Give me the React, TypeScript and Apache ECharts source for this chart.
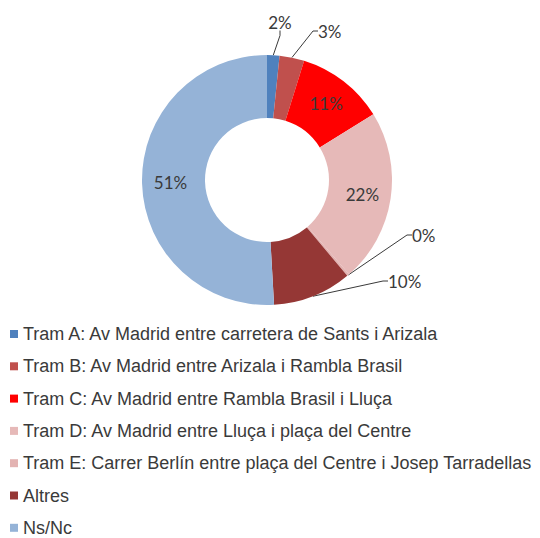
import React, { useEffect, useRef } from "react";
import * as echarts from "echarts";

const categories: string[] = [
  "Tram A: Av Madrid entre carretera de Sants i Arizala",
  "Tram B: Av Madrid entre Arizala i Rambla Brasil",
  "Tram C: Av Madrid entre Rambla Brasil i Lluça",
  "Tram D: Av Madrid entre Lluça i plaça del Centre",
  "Tram E: Carrer Berlín entre plaça del Centre i Josep Tarradellas",
  "Altres",
  "Ns/Nc",
];
const values: number[] = [1.6, 3.2, 11.4, 22.4, 0.3, 10.2, 50.9];
const colors: string[] = ["#4F81BD", "#C0504D", "#FF0000", "#E6B9B8", "#E3B3B2", "#953735", "#95B3D7"];
const insideLabel: boolean[] = [false, false, true, true, false, false, true];
// outside label anchor positions (px) and alignment, for the leader-lined labels
const outsideLabelPos: Record<number, [number, number, string]> = {
  0: [280, 22, "center"],
  1: [318, 31, "left"],
  4: [412, 235, "left"],
  5: [388, 281, "left"],
};

export default function App() {
  const ref = useRef<HTMLDivElement>(null);
  useEffect(() => {
    if (!ref.current) return;
    const chart = echarts.init(ref.current, undefined, { renderer: "svg" });
    const data = categories.map((name, i) => ({
      name,
      value: values[i],
      itemStyle: { color: colors[i] },
      label: insideLabel[i]
        ? { position: "inside" }
        : { position: "outside" },
      labelLine: { show: !insideLabel[i] },
    }));
    chart.setOption({
      animation: false,
      backgroundColor: "#ffffff",
      legend: {
        orient: "vertical",
        left: 10,
        top: 325,
        height: 250,
        padding: 0,
        itemWidth: 8,
        itemHeight: 8,
        itemGap: 14.3,
        icon: "rect",
        textStyle: {
          fontFamily: "Liberation Sans, Arial, sans-serif",
          fontSize: 18,
          lineHeight: 18,
          color: "#3a3a3a",
          padding: [0, 0, 0, 0],
        },
        data: categories,
      },
      series: [
        {
          type: "pie",
          center: [267, 180],
          radius: [62, 125],
          startAngle: 90,
          clockwise: true,
          avoidLabelOverlap: false,
          itemStyle: { borderWidth: 0 },
          label: {
            formatter: (p: any) => Math.round(p.value) + "%",
            fontFamily: "Lato, Open Sans, sans-serif",
            fontSize: 17,
            color: "#3a3a3a",
          },
          labelLine: {
            lineStyle: { color: "#3a3a3a", width: 1 },
            length: 10,
            length2: 5,
          },
          labelLayout: (params: any) => {
            const pos = outsideLabelPos[params.dataIndex];
            if (!pos) return {};
            return { x: pos[0], y: pos[1], align: pos[2], verticalAlign: "middle" };
          },
          emphasis: { disabled: true },
          data,
        },
      ],
    });
    return () => chart.dispose();
  }, []);
  return (
    <div
      ref={ref}
      style={{ position: "fixed", left: 0, top: 0, width: 540, height: 538 }}
    />
  );
}
